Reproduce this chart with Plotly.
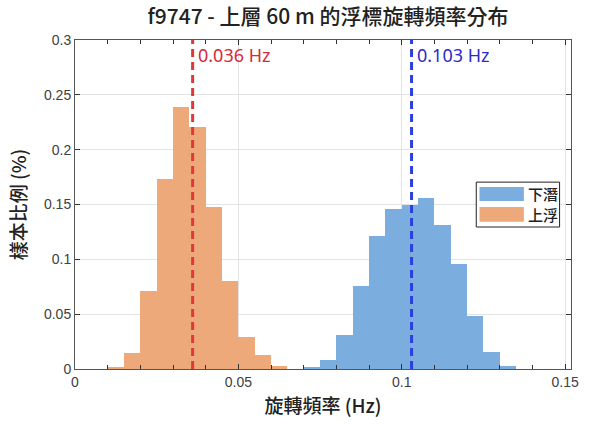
import plotly.graph_objects as go

# ---- data ----
bin_width = 0.005
ascent_edges_start = 0.010
ascent_vals = [0.0018, 0.0146, 0.0711, 0.1733, 0.2389, 0.2204, 0.1477, 0.0802, 0.0292, 0.0125, 0.0030]
dive_edges_start = 0.070
dive_vals = [0.0020, 0.0082, 0.0310, 0.0757, 0.1210, 0.1456, 0.1500, 0.1556, 0.1310, 0.0954, 0.0486, 0.0152, 0.0030]
ascent_mean = 0.036
dive_mean = 0.103
series_names = ["下潛", "上浮"]
title_text = "f9747 - 上層 60 m 的浮標旋轉頻率分布"
x_title = "旋轉頻率 (Hz)"
y_title = "樣本比例 (%)"

ORANGE = "#EEA97B"
BLUE = "#7BAEDF"
RED = "#E03838"
DBLUE = "#2A3FE0"

def centers(start, n):
    return [start + bin_width * (i + 0.5) for i in range(n)]

fig = go.Figure()
fig.add_trace(go.Bar(x=centers(dive_edges_start, len(dive_vals)), y=dive_vals, width=bin_width,
                     marker=dict(color=BLUE, line=dict(width=0)), name=series_names[0], showlegend=False))
fig.add_trace(go.Bar(x=centers(ascent_edges_start, len(ascent_vals)), y=ascent_vals, width=bin_width,
                     marker=dict(color=ORANGE, line=dict(width=0)), name=series_names[1], showlegend=False))

fig.add_trace(go.Scatter(x=[ascent_mean, ascent_mean], y=[0, 0.3], mode="lines",
                         line=dict(color=RED, width=3, dash="8px,5px"), showlegend=False, hoverinfo="skip"))
fig.add_trace(go.Scatter(x=[dive_mean, dive_mean], y=[0, 0.3], mode="lines",
                         line=dict(color=DBLUE, width=3, dash="8px,5px"), showlegend=False, hoverinfo="skip"))

fig.add_annotation(x=ascent_mean, y=0.286, xref="x", yref="y", text=f"{ascent_mean:.3f} Hz",
                   showarrow=False, xanchor="left", xshift=3, font=dict(color="#D8283A", size=18, family="Noto Sans"))
fig.add_annotation(x=dive_mean, y=0.286, xref="x", yref="y", text=f"{dive_mean:.3f} Hz",
                   showarrow=False, xanchor="left", xshift=3, font=dict(color="#2B2BC8", size=18, family="Noto Sans"))

# manual legend (wide patches like the original)
fig.add_shape(type="rect", xref="paper", yref="paper", x0=0.809, x1=0.977, y0=0.4316, y1=0.568,
              line=dict(color="#222222", width=1), fillcolor="white", layer="above")
fig.add_shape(type="rect", xref="paper", yref="paper", x0=0.8155, x1=0.905, y0=0.5106, y1=0.553,
              line=dict(width=0), fillcolor=BLUE, layer="above")
fig.add_shape(type="rect", xref="paper", yref="paper", x0=0.8155, x1=0.905, y0=0.4477, y1=0.4924,
              line=dict(width=0), fillcolor=ORANGE, layer="above")
fig.add_annotation(x=0.909, y=0.532, xref="paper", yref="paper", text=series_names[0], showarrow=False,
                   xanchor="left", yanchor="middle", font=dict(size=15, color="#222", family="Noto Sans CJK TC", weight=500))
fig.add_annotation(x=0.909, y=0.470, xref="paper", yref="paper", text=series_names[1], showarrow=False,
                   xanchor="left", yanchor="middle", font=dict(size=15, color="#222", family="Noto Sans CJK TC", weight=500))

axis_common = dict(showline=True, linecolor="#555555", linewidth=1, mirror="ticks", ticks="inside",
                   tickcolor="#333333", ticklen=5, gridcolor="#E3E3E3", gridwidth=1, zeroline=False,
                   tickfont=dict(family="Liberation Sans", size=14, color="#404040"))

fig.update_xaxes(range=[0, 0.1518], tickvals=[0, 0.05, 0.1, 0.15], ticktext=["0", "0.05", "0.1", "0.15"],
                 minor=dict(dtick=0.01, ticks="inside", ticklen=4, tickcolor="#333333", showgrid=False),
                 title=dict(text=x_title, font=dict(family="Noto Sans CJK TC", size=19, color="#222", weight=500), standoff=10),
                 **axis_common)
fig.update_yaxes(range=[0, 0.3], dtick=0.05,
                 title=dict(text=y_title, font=dict(family="Noto Sans CJK TC", size=19, color="#222", weight=500), standoff=12),
                 **axis_common)

fig.update_layout(
    width=591, height=425,
    margin=dict(l=75, r=13, t=40, b=56),
    paper_bgcolor="white", plot_bgcolor="white",
    barmode="overlay", bargap=0,
    title=dict(text=title_text, x=0.555, xanchor="center", y=0.96, yanchor="middle",
               font=dict(family="Noto Sans CJK TC", size=21, color="#222", weight=500)),
)

fig.write_html("out.html")
